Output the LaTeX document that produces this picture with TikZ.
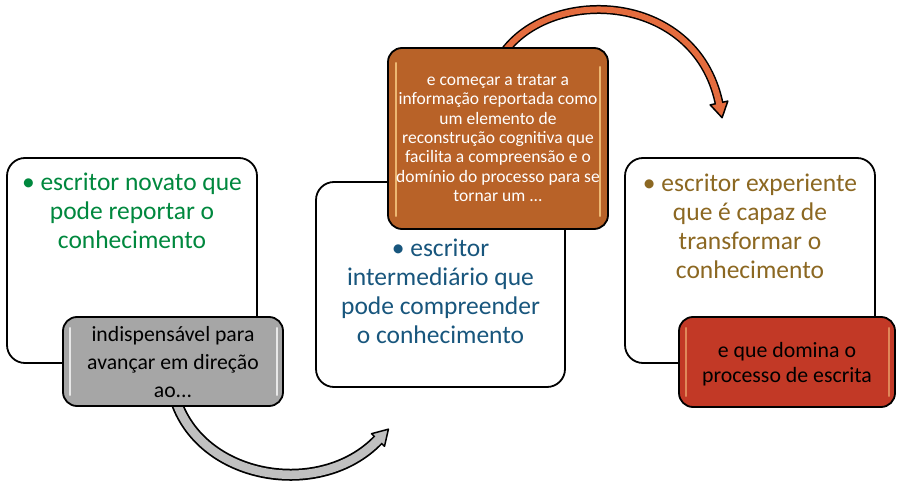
\documentclass[tikz,border=0pt]{standalone}
\usepackage{fontspec}
\setmainfont{Carlito}
\definecolor{tgreen}{RGB}{0,136,62}
\definecolor{tblue}{RGB}{24,86,125}
\definecolor{tbrown}{RGB}{140,104,34}
\definecolor{gfill}{RGB}{166,166,166}
\definecolor{ofill}{RGB}{184,98,40}
\definecolor{rfill}{RGB}{194,57,38}
\definecolor{garrow}{RGB}{192,192,192}
\definecolor{oarrow}{RGB}{228,108,62}
\definecolor{ohl}{RGB}{255,214,140}
\begin{document}
\begin{tikzpicture}[x=1pt,y=-1pt,
  whitebox/.style={draw=black,line width=1.8pt,fill=white,rounded corners=18pt,inner sep=0pt},
  colbox/.style={draw=black,line width=1.8pt,rounded corners=14pt,inner sep=0pt},
  bigtext/.style={align=center,inner sep=0pt,font=\fontsize{25.5}{29}\selectfont},
  hl/.style={line width=2.5pt,line cap=round,opacity=0.75}]
\useasboundingbox (0,0) rectangle (897,486);

% gray arrow (behind the gray box)
\coordinate (gs) at (175,398);
\coordinate (ge) at (378,440);
\coordinate (gx) at (381,437);
\draw[line width=12pt,black] (gs) .. controls (200,480) and (320,500) .. (ge);
\draw[line width=1.5pt,fill=garrow,line join=round] (388.4,429.2) -- (384.5,446.3) -- (371.5,433.7) -- cycle;
\draw[line width=8.5pt,garrow] (gs) .. controls (200,480) and (320,500) .. (ge) -- (gx);

% orange arrow (behind the orange box)
\coordinate (os) at (500,58);
\coordinate (oe) at (719,103);
\coordinate (ox) at (719.6,106);
\draw[line width=9pt,black] (os) .. controls (545,-15) and (695,-10) .. (oe);
\draw[line width=1.5pt,fill=oarrow,line join=round] (722.1,117.7) -- (727.8,101.1) -- (710.2,104.9) -- cycle;
\draw[line width=6pt,oarrow] (os) .. controls (545,-15) and (695,-10) .. (oe) -- (ox);

% white boxes
\node[whitebox,minimum width=250pt,minimum height=205pt] (b1) at (132,260.5) {};
\node[bigtext,text=tgreen] (t1) at (132,211) {• escritor novato que\\pode reportar o\\conhecimento};

\node[whitebox,minimum width=249pt,minimum height=205pt] (b2) at (440.5,284.5) {};
\node[bigtext,text=tblue] (t2) at (440.5,291) {• escritor\\intermediário que\\pode compreender\\o conhecimento};

\node[whitebox,minimum width=250pt,minimum height=205pt] (b3) at (750,260.5) {};
\node[bigtext,text=tbrown] (t3) at (750,226) {• escritor experiente\\que é capaz de\\transformar o\\conhecimento};

% gray box
\node[colbox,fill=gfill,minimum width=220pt,minimum height=89pt] (g) at (173,361.5) {};
\draw[hl,white] ([xshift=8pt,yshift=12pt]g.south west) -- ([xshift=8pt,yshift=-12pt]g.north west);
\draw[hl,white] ([xshift=-7pt,yshift=12pt]g.south east) -- ([xshift=-7pt,yshift=-12pt]g.north east);
\node[align=center,inner sep=0pt,font=\fontsize{21.7}{28}\selectfont] (gt) at (173,362) {indispensável para\\avançar em direção\\ao...};

% orange box
\node[colbox,fill=ofill,minimum width=220pt,minimum height=181pt] (o) at (498,138.5) {};
\draw[hl,ohl] ([xshift=9pt,yshift=14pt]o.south west) -- ([xshift=9pt,yshift=-16pt]o.north west);
\draw[hl,ohl] ([xshift=-9pt,yshift=14pt]o.south east) -- ([xshift=-9pt,yshift=-20pt]o.north east);
\node[align=center,inner sep=0pt,text=white,font=\fontsize{17.5}{19.4}\selectfont] (ot) at (498,138) {e começar a tratar a\\informação reportada como\\um elemento de\\reconstrução cognitiva que\\facilita a compreensão e o\\domínio do processo para se\\tornar um ...};

% red box
\node[colbox,fill=rfill,minimum width=216pt,minimum height=90pt] (r) at (787,362) {};
\draw[hl,ohl,opacity=0.5] ([xshift=8pt,yshift=12pt]r.south west) -- ([xshift=8pt,yshift=-12pt]r.north west);
\draw[hl,ohl,opacity=0.5] ([xshift=-7pt,yshift=12pt]r.south east) -- ([xshift=-7pt,yshift=-12pt]r.north east);
\node[align=center,inner sep=0pt,font=\fontsize{21.8}{25}\selectfont] (rt) at (787,364) {e que domina o\\processo de escrita};
\end{tikzpicture}
\end{document}
